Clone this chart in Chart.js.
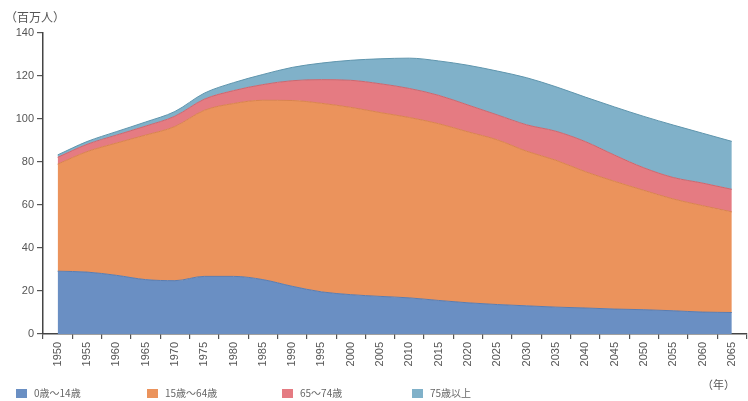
<!DOCTYPE html>
<html>
<head>
<meta charset="utf-8">
<script src="https://cdn.jsdelivr.net/npm/chart.js@4.4.1/dist/chart.umd.min.js"></script>
<style>
  body { margin: 0; background: #fff; }
  #wrap { position: relative; width: 748px; height: 401px; overflow: hidden; }
  .txt { position: absolute; font-family: "Noto Sans CJK JP", "Noto Sans", sans-serif; color: #555; white-space: nowrap; }
  .legend-item { position: absolute; top: 387px; font-size: 10px; line-height: 12px; color: #666; }
  .legend-item span.box { display: inline-block; width: 11px; height: 9px; vertical-align: -1px; margin-right: 7px; }
</style>
</head>
<body>
<div id="wrap">
  <canvas id="popChart" width="748" height="401"></canvas>
  <div class="txt" style="left:5px; top:8px; font-size:12px;">（百万人）</div>
  <div class="txt" style="left:702px; top:376px; font-size:11px;">（年）</div>
  <div id="legend"></div>
</div>
<script>
  // 年（x軸）
  var years = ['1950', '1955', '1960', '1965', '1970', '1975', '1980', '1985', '1990', '1995',
               '2000', '2005', '2010', '2015', '2020', '2025', '2030', '2035', '2040', '2045',
               '2050', '2055', '2060', '2065'];

  // 年齢区分別人口（百万人）
  var age0to14  = [29.2, 28.8, 27.3, 25.3, 24.8, 26.8, 26.8, 25.3, 22.2, 19.6, 18.3, 17.5,
                   16.8, 15.6, 14.5, 13.7, 13.1, 12.5, 12.1, 11.6, 11.3, 10.8, 10.2, 10.0];
  var age15to64 = [49.8, 56.0, 61.5, 67.2, 71.7, 77.2, 80.4, 83.4, 86.4, 87.7, 87.1, 85.5,
                   83.9, 82.2, 79.5, 76.6, 71.9, 68.3, 63.4, 59.4, 55.5, 52.0, 49.5, 46.8];
  var age65to74 = [3.2, 3.4, 3.7, 4.2, 4.8, 5.2, 6.0, 7.3, 9.2, 11.0, 12.6, 13.4,
                   13.5, 13.2, 12.5, 11.6, 12.3, 13.5, 14.0, 12.2, 10.5, 10.0, 10.5, 10.5];
  var age75plus = [1.1, 1.3, 1.6, 1.9, 2.2, 2.8, 3.7, 4.7, 6.2, 7.7, 9.3, 11.6,
                   14.1, 16.0, 18.5, 20.4, 21.9, 20.7, 20.7, 22.4, 23.9, 24.4, 23.2, 22.3];

  var seriesLabels = ['0歳～14歳', '15歳～64歳', '65～74歳', '75歳以上'];

  // y軸の目盛り
  var yMin = 0, yMax = 140, yStep = 20;

  var fills   = ['#6a8fc3', '#eb935c', '#e57b82', '#80b1c9'];
  var borders = ['#5b7cae', '#d9824d', '#c9676f', '#5f95ad'];
  var legendX = [16, 147, 282, 412];

  var seriesData = [age0to14, age15to64, age65to74, age75plus];
  var datasets = seriesData.map(function(d, i) {
    return {
      label: seriesLabels[i],
      data: d,
      backgroundColor: fills[i],
      borderColor: borders[i],
      borderWidth: 1,
      pointRadius: 0,
      fill: i === 0 ? 'origin' : '-1',
      tension: 0.4,
      cubicInterpolationMode: 'monotone'
    };
  });

  var ctx = document.getElementById('popChart').getContext('2d');

  var myChart = new Chart(ctx, {
    type: 'line',
    data: { labels: years, datasets: datasets },
    options: {
      responsive: false,
      animation: false,
      layout: { padding: { top: 33, right: 0, left: 0, bottom: 0 } },
      plugins: {
        legend: { display: false },
        tooltip: { enabled: false }
      },
      scales: {
        x: {
          offset: true,
          grid: { offset: true, drawOnChartArea: false, drawTicks: true, tickLength: 5, color: '#555', lineWidth: 1.2 },
          border: { color: '#444', width: 1.5 },
          ticks: {
            color: '#555',
            font: { family: 'Liberation Sans', size: 11 },
            minRotation: 90,
            maxRotation: 90,
            autoSkip: false,
            padding: 3
          },
          afterFit: function(scale) { scale.height = 67; }
        },
        y: {
          stacked: true,
          min: yMin,
          max: yMax,
          grid: { drawOnChartArea: false, drawTicks: true, tickLength: 6, color: '#555', lineWidth: 1.2 },
          border: { color: '#444', width: 1.5 },
          ticks: {
            stepSize: yStep,
            color: '#555',
            font: { family: 'Liberation Sans', size: 11 },
            padding: 3
          },
          afterFit: function(scale) { scale.width = 43; }
        }
      }
    }
  });

  // 凡例
  var legend = document.getElementById('legend');
  seriesLabels.forEach(function(lbl, i) {
    var item = document.createElement('div');
    item.className = 'txt legend-item';
    item.style.left = legendX[i] + 'px';
    item.innerHTML = '<span class="box" style="background:' + fills[i] + '"></span>' + lbl;
    legend.appendChild(item);
  });
</script>
</body>
</html>
